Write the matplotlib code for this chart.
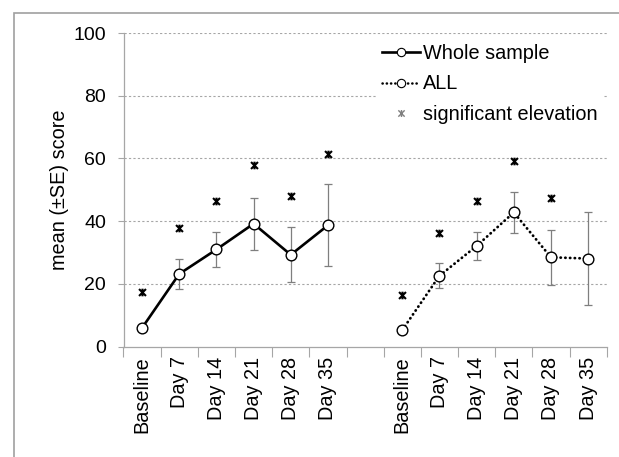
import matplotlib
matplotlib.use("Agg")
import matplotlib.pyplot as plt
from matplotlib.lines import Line2D
from matplotlib.patches import Rectangle
from matplotlib.path import Path
import numpy as np

plt.rcParams['font.family'] = ['Liberation Sans', 'DejaVu Sans']

categories = ["Baseline", "Day 7", "Day 14", "Day 21", "Day 28", "Day 35"]
whole_mean = [6.0, 23.2, 31.0, 39.2, 29.3, 38.7]
whole_se = [0.0, 4.7, 5.6, 8.3, 8.7, 13.1]
whole_sig = [17.3, 37.9, 46.4, 57.8, 48.0, 61.5]
all_mean = [5.3, 22.6, 32.1, 42.8, 28.5, 28.1]
all_se = [0.0, 4.0, 4.4, 6.4, 8.8, 14.9]
all_sig = [16.4, 36.4, 46.4, 59.3, 47.4, np.nan]

W, H = 619, 457
fig = plt.figure(figsize=(W / 100, H / 100), dpi=100)
ax = fig.add_axes([123.5 / W, 1 - 346.7 / H, (606.7 - 123.5) / W, (346.7 - 33) / H])

n = len(categories)
x1 = np.arange(n)
x2 = np.arange(n) + n + 1

# Excel-style star marker: X plus vertical bar
star = Path([(-1, -1), (1, 1), (-1, 1), (1, -1), (0, -1.1), (0, 1.1)],
            [Path.MOVETO, Path.LINETO, Path.MOVETO, Path.LINETO, Path.MOVETO, Path.LINETO])

grid_c = '#a6a6a6'
for yv in [20, 40, 60, 80, 100]:
    ax.axhline(yv, color=grid_c, lw=0.8, ls=(0, (2, 2)), zorder=0)

err_c = '#7f7f7f'
ax.errorbar(x1, whole_mean, yerr=whole_se, fmt='none', ecolor=err_c, elinewidth=0.9,
            capsize=3.2, capthick=0.9, zorder=2)
ax.errorbar(x2, all_mean, yerr=all_se, fmt='none', ecolor=err_c, elinewidth=0.9,
            capsize=3.2, capthick=0.9, zorder=2)

ax.plot(x1, whole_mean, color='black', lw=1.9, marker='o', ms=7.7, mfc='white',
        mec='black', mew=1.0, zorder=3)
ax.plot(x2, all_mean, color='black', lw=2.0, ls=(0, (0.1, 1.6)), dash_capstyle='round',
        marker='o', ms=7.7, mfc='white', mec='black', mew=1.0, zorder=3)

ax.plot(x1, whole_sig, ls='none', marker=star, ms=5.5, mec='black', mew=1.5, zorder=3)
ax.plot(x2, all_sig, ls='none', marker=star, ms=5.5, mec='black', mew=1.5, zorder=3)

ax.set_xlim(-0.5, 2 * n + 0.5)
ax.set_ylim(0, 100)
ax.set_yticks([0, 20, 40, 60, 80, 100])
ax.tick_params(axis='y', length=4, width=0.8, color=grid_c, labelsize=14, pad=8.5)

ax.set_xticks(list(x1) + list(x2))
ax.set_xticklabels(categories + categories, rotation=90, fontsize=14.3)
ax.tick_params(axis='x', which='major', length=0, pad=7)
ax.set_xticks(np.arange(-0.5, 2 * n + 1, 1.0), minor=True)
ax.tick_params(axis='x', which='minor', length=7, width=0.8, color=grid_c)

for s in ['top', 'right']:
    ax.spines[s].set_visible(False)
for s in ['left', 'bottom']:
    ax.spines[s].set_color(grid_c)
    ax.spines[s].set_linewidth(0.9)

ax.set_ylabel("mean (\u00b1SE) score", fontsize=14.3, labelpad=3.5)

handles = [
    Line2D([], [], color='black', lw=1.9, marker='o', ms=6, mfc='white', mec='black', mew=0.8),
    Line2D([], [], color='black', lw=1.8, ls=(0, (0.1, 1.6)), dash_capstyle='round',
           marker='o', ms=6, mfc='white', mec='black', mew=0.8),
    Line2D([], [], ls='none', marker=star, ms=5, mec='#808080', mew=1.0),
]
leg = fig.legend(handles, ["Whole sample", "ALL", "significant elevation"],
                 loc='upper left', bbox_to_anchor=(376 / W, 1 - 38 / H),
                 fontsize=14.3, frameon=True, facecolor='white', edgecolor='none',
                 framealpha=1, fancybox=False, borderpad=0.3, borderaxespad=0,
                 handlelength=1.9, handletextpad=0.15, labelspacing=0.58)
leg.set_zorder(5)

fig.add_artist(Rectangle((14 / W, -0.1), 2, (H - 13) / H + 0.1, transform=fig.transFigure,
                         fill=False, edgecolor='#a0a0a0', lw=1.2))

fig.savefig('out.png', dpi=100)
